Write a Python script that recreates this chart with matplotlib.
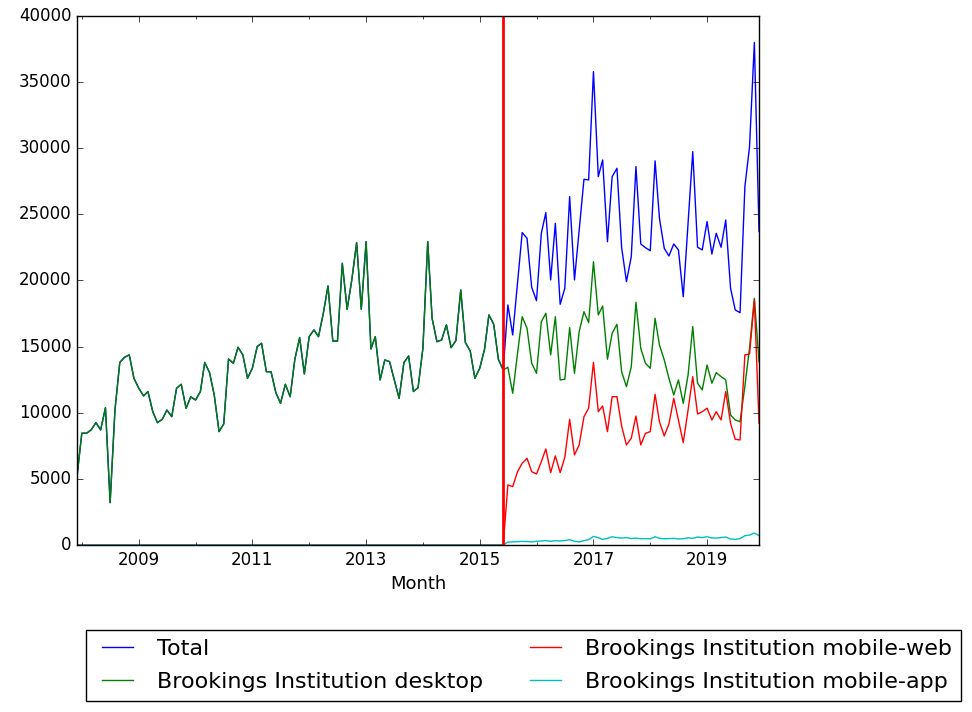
import pandas as pd
import matplotlib
matplotlib.use('Agg')
import matplotlib.pyplot as plt
import matplotlib.dates as mdates

plt.style.use('classic')

# monthly pageviews, Dec 2007 .. Dec 2019
months = pd.date_range('2007-12-01', '2019-12-01', freq='MS')

desktop = [5160,
           8450, 8450, 8700, 9250, 8700, 10380, 3200, 10200, 13800, 14190, 14370, 12600,
           11850, 11270, 11600, 10080, 9250, 9500, 10200, 9700, 11850, 12150, 10330, 11200,
           10960, 11600, 13800, 13030, 11340, 8570, 9150, 14060, 13740, 14950, 14370, 12600,
           13360, 15000, 15250, 13100, 13100, 11520, 10710, 12150, 11210, 14040, 15680, 12930,
           15750, 16260, 15750, 17520, 19580, 15420, 15420, 21300, 17820, 20040, 22860, 17820,
           22930, 14820, 15750, 12480, 13990, 13860, 12480, 11090, 13790, 14290, 11600, 11900,
           14870, 22930, 17140, 15370, 15500, 16640, 14920, 15450, 19280, 15300, 14670, 12600,
           13360, 14800, 17390, 16690, 14040, 13230, 13440, 11470, 14490, 17260, 16390, 13740,
           12980, 16880, 17520, 14370, 17260, 12480, 12530, 16430, 12980, 16130, 17640, 16810,
           21420, 17390, 18070, 14040, 16010, 16690, 13100, 11970, 13480, 18350, 14870, 13740,
           13360, 17140, 15120, 13990, 12600, 11340, 12480, 10710, 12850, 16510, 12230, 11720,
           13610, 12230, 13030, 12730, 12480, 9830, 9450, 9320, 12000, 14900, 18650, 13860]

# Jul 2015 .. Dec 2019 (new pageviews data)
total_new = [18150, 15880, 19790, 23620, 23190, 19480,
             18470, 23570, 25130, 20040, 24320, 18200, 19410, 26340, 20040, 23820, 27650, 27600,
             35790, 27850, 29110, 22930, 27850, 28480, 22500, 19910, 21800, 28610, 22760, 22480,
             22250, 29040, 24700, 22430, 21850, 22760, 22310, 18770, 24320, 29740, 22510, 22310,
             24450, 22000, 23570, 22510, 24570, 19410, 17770, 17560, 27090, 30120, 38000, 23690]

mobile_web_new = [4540, 4410, 5540, 6180, 6550, 5540,
                  5370, 6300, 7260, 5470, 6730, 5470, 6630, 9500, 6810, 7560, 9700, 10340,
                  13810, 10080, 10510, 8570, 11210, 11210, 9000, 7560, 8070, 9750, 7560, 8440,
                  8570, 11390, 9320, 8240, 9150, 11090, 9450, 7740, 10210, 12730, 9900, 10080,
                  10340, 9450, 10080, 9450, 11600, 9200, 7990, 7940, 14370, 14440, 18530, 9200]

mobile_app_new = [220, 230, 250, 270, 260, 230,
                  280, 300, 330, 280, 320, 300, 330, 400, 280, 230, 330, 400,
                  650, 550, 420, 500, 620, 560, 520, 560, 480, 520, 470, 480,
                  460, 620, 500, 470, 480, 500, 450, 470, 540, 500, 600, 560,
                  620, 530, 520, 560, 600, 450, 420, 480, 700, 750, 900, 700]

n_old = len(months) - len(total_new)   # months before Jul 2015
total = desktop[:n_old] + total_new
mobile_web = [0] * n_old + mobile_web_new
mobile_app = [0] * n_old + mobile_app_new

split_date = pd.Timestamp('2015-06-01')
tick_years = [2009, 2011, 2013, 2015, 2017, 2019]

fig = plt.figure(figsize=(9.72, 7.12), dpi=100)
ax = fig.add_axes([0.0792, 0.2346, 0.7017, 0.7430])

ax.plot(months, total, color='b', label='Total')
ax.plot(months, desktop, color='g', label='Brookings Institution desktop')
ax.plot(months, mobile_web, color='r', label='Brookings Institution mobile-web')
ax.plot(months, mobile_app, color='c', label='Brookings Institution mobile-app')
ax.axvline(split_date, color='r', linewidth=2)

ax.set_xlim(months[0], months[-1])
ax.set_ylim(0, 40000)
ax.set_xticks([pd.Timestamp(f'{y}-01-01') for y in tick_years])
ax.xaxis.set_major_formatter(mdates.DateFormatter('%Y'))
ax.xaxis.set_minor_locator(mdates.YearLocator(1))
ax.set_xlabel('Month', fontsize=13)

fig.legend(*ax.get_legend_handles_labels(), loc='upper left',
           bbox_to_anchor=(0.0885, 0.1152), borderaxespad=0, ncol=2,
           fontsize=16, handlelength=2.0, handletextpad=0.8, columnspacing=1.8,
           labelspacing=0.6)

fig.savefig('out.png', dpi=100)
